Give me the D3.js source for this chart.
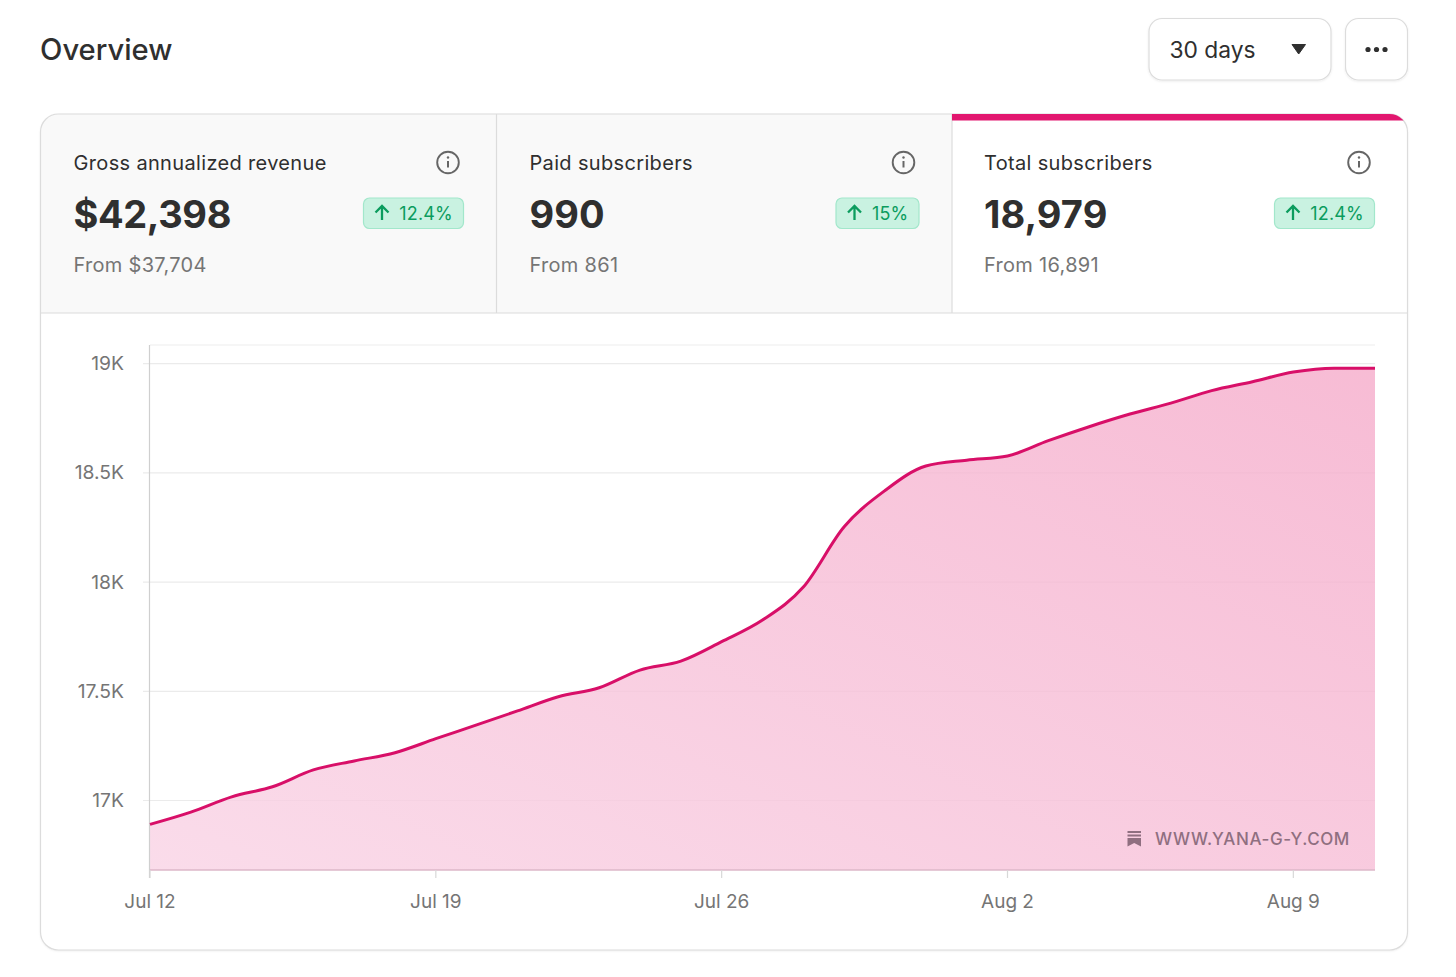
<!DOCTYPE html>
<html>
<head>
<meta charset="utf-8">
<title>Overview</title>
<script src="https://cdn.jsdelivr.net/npm/d3@7"></script>
<style>
  html, body { margin: 0; padding: 0; background: #fff; }
  svg { display: block; }
  text { font-family: Inter, "Noto Sans", sans-serif; }
</style>
</head>
<body>
<svg id="chart" width="1456" height="977"></svg>
<script>
// values
const START_DATE = '2023-07-12';
const END_DATE = '2023-08-12';
const SUBSCRIBERS = [
  16891, 16947, 17017, 17063, 17140, 17181, 17219, 17283, 17346, 17410, 17475,
  17516, 17597, 17638, 17727, 17826, 17977, 18253, 18419, 18531, 18558, 18577,
  18647, 18711, 18769, 18819, 18876, 18917, 18961, 18979, 18979
];
const Y_TICKS = [17000, 17500, 18000, 18500, 19000];
const Y_DOMAIN = [16682, 19085];
const X_TICKS = ['2023-07-12', '2023-07-19', '2023-07-26', '2023-08-02', '2023-08-09'];

const TAB_LABELS = ['Gross annualized revenue', 'Paid subscribers', 'Total subscribers'];
const TAB_VALUES = ['$42,398', '990', '18,979'];
const TAB_FROM = ['From $37,704', 'From 861', 'From 16,891'];
const TAB_CHANGE = ['12.4%', '15%', '12.4%'];
const PILL_WIDTHS = [100, 83, 100];

const PINK = '#e2166f';
const LINE_PINK = '#d80f68';
const BORDER = '#dcdcdc';
const INK = '#2f2f2f';
const MUTED = '#757575';
const GREEN = '#0b9c5e';

const CARD = { left: 40.5, right: 1407.5, top: 114, bottom: 950, divider: 313, r: 18 };
const TAB_EDGES = [CARD.left, 496.5, 952, CARD.right];
const TAB_PAD = [33, 33, 32];
const PLOT = { left: 150, right: 1375, top: 345, bottom: 870 };

const svg = d3.select('#chart');
const defs = svg.append('defs');

const shadow = defs.append('filter').attr('id', 'soft').attr('x', '-5%').attr('y', '-5%').attr('width', '110%').attr('height', '110%');
shadow.append('feDropShadow').attr('dx', 0).attr('dy', 1).attr('stdDeviation', 1.2).attr('flood-color', '#000').attr('flood-opacity', 0.08);

// stops are deeper than they look: the area sits over the grid at 0.8 opacity
const grad = defs.append('linearGradient').attr('id', 'areaFill')
  .attr('gradientUnits', 'userSpaceOnUse')
  .attr('x1', PLOT.left).attr('y1', PLOT.bottom).attr('x2', 564).attr('y2', -10);
grad.append('stop').attr('offset', '0%').attr('stop-color', '#f9d3e5');
grad.append('stop').attr('offset', '100%').attr('stop-color', '#f5abca');

defs.append('clipPath').attr('id', 'cardClip').append('rect')
  .attr('x', CARD.left).attr('y', CARD.top)
  .attr('width', CARD.right - CARD.left).attr('height', CARD.bottom - CARD.top)
  .attr('rx', CARD.r);

// header
svg.append('text').attr('x', 40).attr('y', 60)
  .attr('font-size', 29.2).attr('font-weight', 550).attr('fill', INK).text('Overview');

function button(x, w) {
  svg.append('rect').attr('x', x).attr('y', 18.5).attr('width', w).attr('height', 61.5)
    .attr('rx', 13).attr('fill', '#fff').attr('stroke', BORDER).attr('stroke-width', 1.2)
    .attr('filter', 'url(#soft)');
}
button(1149, 182);
button(1345.5, 62);
svg.append('text').attr('x', 1169.5).attr('y', 58)
  .attr('font-size', 22.8).attr('fill', INK).text('30 days');
svg.append('path').attr('d', 'M1292,44.5 L1305.5,44.5 L1298.7,54 Z').attr('fill', INK)
  .attr('stroke', INK).attr('stroke-width', 1).attr('stroke-linejoin', 'round');
svg.selectAll('circle.dot').data([1368, 1376.5, 1385]).enter().append('circle')
  .attr('class', 'dot').attr('cx', (d) => d).attr('cy', 49.5).attr('r', 2.6).attr('fill', INK);

// card
svg.append('rect').attr('x', CARD.left).attr('y', CARD.top)
  .attr('width', CARD.right - CARD.left).attr('height', CARD.bottom - CARD.top)
  .attr('rx', CARD.r).attr('fill', '#fff').attr('filter', 'url(#soft)');

const cardInner = svg.append('g').attr('clip-path', 'url(#cardClip)');
cardInner.selectAll('rect.tabbg').data([0, 1]).enter().append('rect').attr('class', 'tabbg')
  .attr('x', (i) => TAB_EDGES[i]).attr('y', CARD.top)
  .attr('width', (i) => TAB_EDGES[i + 1] - TAB_EDGES[i]).attr('height', CARD.divider - CARD.top)
  .attr('fill', '#f9f9f9');
cardInner.selectAll('line.tabline').data([1, 2]).enter().append('line').attr('class', 'tabline')
  .attr('x1', (i) => TAB_EDGES[i]).attr('x2', (i) => TAB_EDGES[i])
  .attr('y1', CARD.top).attr('y2', CARD.divider)
  .attr('stroke', BORDER).attr('stroke-width', 1.2);
cardInner.append('line').attr('x1', CARD.left).attr('x2', CARD.right)
  .attr('y1', CARD.divider).attr('y2', CARD.divider).attr('stroke', BORDER).attr('stroke-width', 1.2);

svg.append('rect').attr('x', CARD.left).attr('y', CARD.top)
  .attr('width', CARD.right - CARD.left).attr('height', CARD.bottom - CARD.top)
  .attr('rx', CARD.r).attr('fill', 'none').attr('stroke', BORDER).attr('stroke-width', 1.2);

// selected tab bar goes over the border
svg.append('g').attr('clip-path', 'url(#cardClip)').append('rect')
  .attr('x', TAB_EDGES[2]).attr('y', CARD.top - 1)
  .attr('width', CARD.right - TAB_EDGES[2] + 1).attr('height', 7.5).attr('fill', PINK);

const tabs = svg.selectAll('g.tab').data(TAB_LABELS).enter().append('g').attr('class', 'tab')
  .attr('transform', (d, i) => 'translate(' + TAB_EDGES[i] + ',0)');

tabs.append('text').attr('x', (d, i) => TAB_PAD[i]).attr('y', 170)
  .attr('font-size', 20).attr('letter-spacing', 0.34).attr('fill', INK).text((d) => d);
tabs.append('text').attr('x', (d, i) => TAB_PAD[i]).attr('y', 228)
  .attr('font-size', 38).attr('font-weight', 700).attr('fill', INK)
  .attr('letter-spacing', (d, i) => (i === 0 ? -0.4 : 0.1)).text((d, i) => TAB_VALUES[i]);
tabs.append('text').attr('x', (d, i) => TAB_PAD[i]).attr('y', 272)
  .attr('font-size', 20).attr('letter-spacing', 0.3).attr('fill', MUTED).text((d, i) => TAB_FROM[i]);

// info icon + change pill, both anchored to the right edge of each tab
tabs.each(function (d, i) {
  const g = d3.select(this);
  const w = TAB_EDGES[i + 1] - TAB_EDGES[i];
  const iconX = w - 48.5;
  g.append('circle').attr('cx', iconX).attr('cy', 162.5).attr('r', 10.8)
    .attr('fill', 'none').attr('stroke', '#666').attr('stroke-width', 1.9);
  g.append('line').attr('x1', iconX).attr('x2', iconX).attr('y1', 161).attr('y2', 167.5)
    .attr('stroke', '#666').attr('stroke-width', 2);
  g.append('circle').attr('cx', iconX).attr('cy', 157.5).attr('r', 1.2).attr('fill', '#666');

  const pillRight = w - 33;
  const pillLeft = pillRight - PILL_WIDTHS[i];
  g.append('rect').attr('x', pillLeft).attr('y', 198).attr('width', PILL_WIDTHS[i]).attr('height', 30.5)
    .attr('rx', 6).attr('fill', '#c9f2e1').attr('stroke', '#a2e7cb').attr('stroke-width', 1.2);
  const ax = pillLeft + 18.5;
  g.append('path').attr('d', `M${ax},220 V206.5 M${ax - 6.5},212.5 L${ax},206 L${ax + 6.5},212.5`)
    .attr('fill', 'none').attr('stroke', GREEN).attr('stroke-width', 2.3);
  g.append('text').attr('x', pillRight - 10.5).attr('y', 219.5).attr('text-anchor', 'end')
    .attr('font-size', 18).attr('letter-spacing', 0.2).attr('fill', GREEN).text(TAB_CHANGE[i]);
});

// chart
const dates = d3.utcDay.range(new Date(START_DATE), new Date(END_DATE));
const series = dates.map((d, i) => ({ date: d, value: SUBSCRIBERS[i] }));

const xScale = d3.scaleUtc().domain(d3.extent(dates)).range([PLOT.left, PLOT.right]);
const yScale = d3.scaleLinear().domain(Y_DOMAIN).range([PLOT.bottom, PLOT.top]);

const curve = d3.curveMonotoneX;
const area = d3.area().curve(curve)
  .x((d) => xScale(d.date)).y0(PLOT.bottom).y1((d) => yScale(d.value));
const line = d3.line().curve(curve)
  .x((d) => xScale(d.date)).y((d) => yScale(d.value));

const fmtY = (d) => (d / 1000) + 'K';
const yAxis = d3.axisLeft(yScale).tickValues(Y_TICKS).tickFormat(fmtY).tickSize(0).tickPadding(26).offset(0);
const yG = svg.append('g').attr('id', 'y-axis').attr('transform', 'translate(' + PLOT.left + ',0)').call(yAxis);
yG.select('.domain').remove();
yG.selectAll('.tick line').attr('x1', -7).attr('x2', PLOT.right - PLOT.left)
  .attr('stroke', '#ebebeb').attr('stroke-width', 1.2);
yG.selectAll('.tick text').attr('font-size', 19.3).attr('fill', MUTED).attr('y', 0.4)
  .style('font-family', 'Inter, sans-serif');

svg.append('path').datum(series).attr('d', area).attr('fill', 'url(#areaFill)').attr('fill-opacity', 0.8);

// top edge of the plot
svg.append('line').attr('x1', PLOT.left).attr('x2', PLOT.right).attr('y1', PLOT.top).attr('y2', PLOT.top)
  .attr('stroke', '#eeeeee').attr('stroke-width', 1.2);
svg.append('line').attr('x1', PLOT.left - 0.5).attr('x2', PLOT.left - 0.5).attr('y1', PLOT.top).attr('y2', PLOT.bottom + 8)
  .attr('stroke', '#cfcfcf').attr('stroke-width', 1.2);

const fmtX = d3.utcFormat('%b %-d');
const xAxis = d3.axisBottom(xScale).tickValues(X_TICKS.map((d) => new Date(d))).tickFormat(fmtX).tickSize(8).tickPadding(17).offset(0);
const xG = svg.append('g').attr('id', 'x-axis').attr('transform', 'translate(0,' + PLOT.bottom + ')').call(xAxis);
xG.select('.domain').attr('stroke', '#dcb7c8').attr('stroke-width', 1.4).attr('d', `M${PLOT.left},0H${PLOT.right}`);
xG.selectAll('.tick line').attr('stroke', '#d8d8d8').attr('stroke-width', 1.2);
xG.selectAll('.tick text').attr('font-size', 19).attr('fill', MUTED)
  .style('font-family', 'Inter, sans-serif');

svg.append('path').datum(series).attr('d', line).attr('fill', 'none')
  .attr('stroke', LINE_PINK).attr('stroke-width', 3).attr('stroke-linejoin', 'round');

// watermark
svg.append('path')
  .attr('d', 'M1127.5,831 H1141 V833 H1127.5 Z M1127.5,834.5 H1141 V836.5 H1127.5 Z M1127.5,838 H1141 V846.5 L1134.2,843 L1127.5,846.5 Z')
  .attr('fill', '#8f6f80');
svg.append('text').attr('x', 1155).attr('y', 845)
  .attr('font-size', 17).attr('font-weight', 500).attr('letter-spacing', 0.6).attr('fill', '#8f6f80')
  .text('WWW.YANA-G-Y.COM');
</script>
</body>
</html>
